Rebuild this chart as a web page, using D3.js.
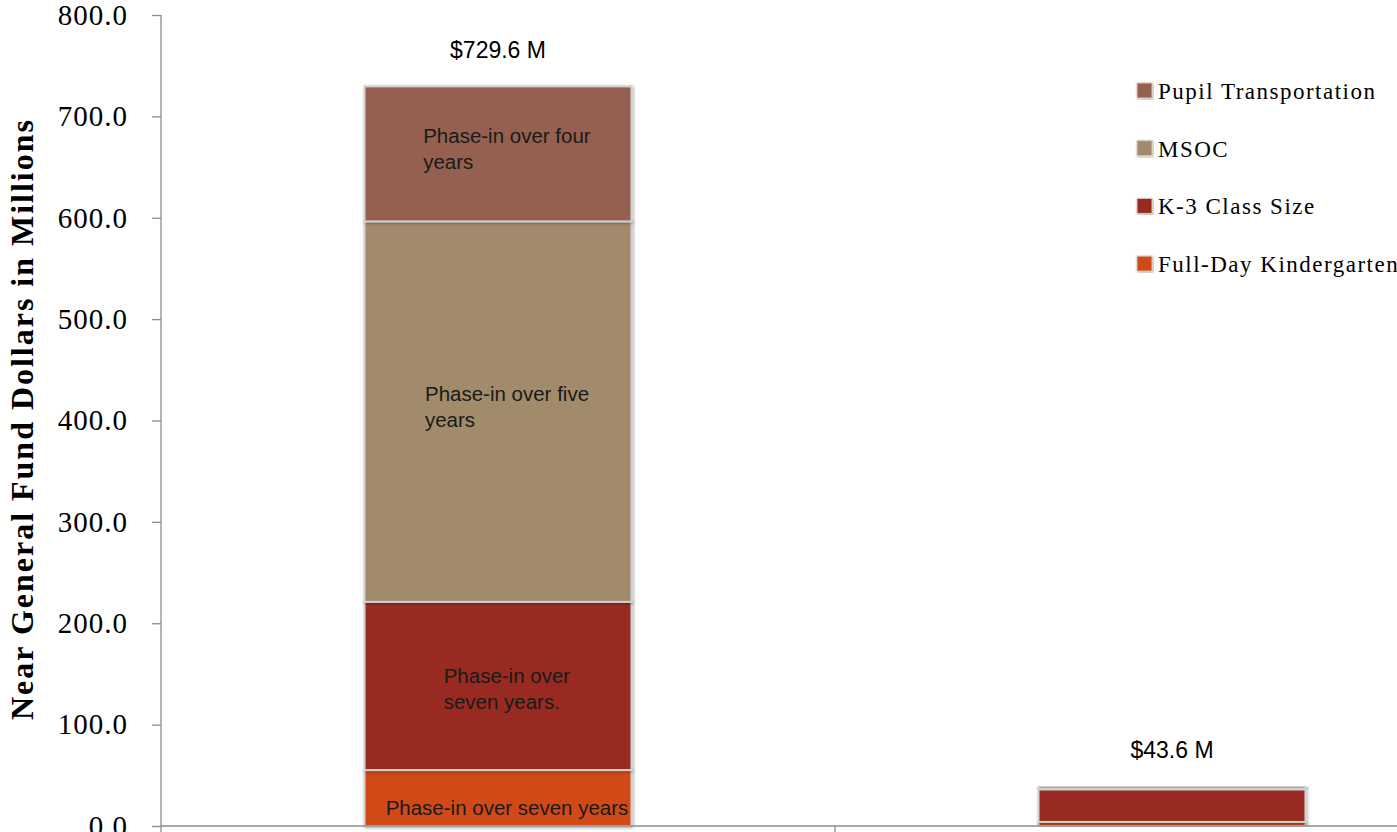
<!DOCTYPE html>
<meta charset="utf-8">
<style>
body { margin: 0; background: #fff; }
.chart text { font-family: "Liberation Serif", serif; }
.axis path, .axis line { stroke: #8c8c8c; stroke-width: 1.3; }
.chart .axis text { font-family: "Liberation Serif", serif; font-size: 29px; letter-spacing: 1px; fill: #000; }
.chart .note { font-family: "Liberation Sans", Arial, sans-serif; font-size: 20.5px; fill: #1a1a1a; }
.chart .total { font-family: "Liberation Sans", Arial, sans-serif; font-size: 23px; fill: #000; }
.chart .legend text { font-size: 23px; letter-spacing: 1.5px; fill: #000; }
</style>
<svg class="chart"></svg>
<script src="https://cdnjs.cloudflare.com/ajax/libs/d3/7.8.5/d3.min.js"></script>
<script>

var width = 1397,
    height = 832;

// data
var categories = ["Full Implementation", "2013-15 Biennium"];
var seriesNames = ["Full-Day Kindergarten", "K-3 Class Size", "MSOC", "Pupil Transportation"];
var fullDayK = [55.2, 4.0];
var k3ClassSize = [165.9, 32.0];
var msoc = [375.3, 0.8];
var pupilTransport = [133.2, 2.4];
var totalLabels = ["$729.6 M", "$43.6 M"];
var yTicks = [0, 100, 200, 300, 400, 500, 600, 700, 800];
var notes = [
  ["Phase-in over seven  years"],
  ["Phase-in over", "seven years."],
  ["Phase-in over five", "years"],
  ["Phase-in over four", "years"]
];
var colors = ["#d14a19", "#992c20", "#a28b6b", "#956150"];

var rows = categories.map(function(c, i) {
  return {
    category: c,
    "Full-Day Kindergarten": fullDayK[i],
    "K-3 Class Size": k3ClassSize[i],
    "MSOC": msoc[i],
    "Pupil Transportation": pupilTransport[i]
  };
});

var stacked = d3.stack().keys(seriesNames)(rows);

var y = d3.scaleLinear()
    .domain([0, 800])
    .range([826, 15]);

var x = d3.scaleBand()
    .domain(categories)
    .range([161, 1509])
    .padding(0);

var barW = x.bandwidth() * 0.396;

var svg = d3.select(".chart")
    .attr("width", width)
    .attr("height", height);

var defs = svg.append("defs");
var f = defs.append("filter").attr("id", "shadow")
    .attr("x", "-10%").attr("y", "-10%").attr("width", "120%").attr("height", "120%");
f.append("feDropShadow").attr("dx", 1).attr("dy", 1).attr("stdDeviation", 1.6)
    .attr("flood-color", "#000").attr("flood-opacity", 0.35);

// bars
var layer = svg.selectAll(".layer")
    .data(stacked)
  .enter().append("g")
    .attr("class", "layer")
    .attr("fill", function(d, i) { return colors[i]; });

layer.selectAll("rect")
    .data(function(d) { return d; })
  .enter().append("rect")
    .attr("x", function(d) { return x(d.data.category) + (x.bandwidth() - barW) / 2; })
    .attr("y", function(d) { return y(d[1]); })
    .attr("width", barW)
    .attr("height", function(d) { return Math.max(0, y(d[0]) - y(d[1])); })
    .attr("stroke", "#d0d0d0")
    .attr("stroke-width", 2)
    .attr("filter", "url(#shadow)");

// notes inside the first bar
var cx0 = x(categories[0]) + x.bandwidth() / 2;
stacked.forEach(function(s, i) {
  var seg = s[0];
  var mid = (y(seg[0]) + y(seg[1])) / 2;
  var lines = notes[i];
  var t = svg.append("text").attr("class", "note");
  var lh = 26;
  var top = mid - (lines.length - 1) * lh / 2 + 2;
  if (lines.length === 1) top = mid + 17;
  if (i === 1) top += 8;
  lines.forEach(function(l, j) {
    t.append("tspan").attr("x", 0).attr("y", top + j * lh).text(l);
  });
  var w = t.node().getBBox().width;
  t.selectAll("tspan").attr("x", cx0 + 9 - w / 2);
});

// totals
var totals = stacked[stacked.length - 1];
svg.selectAll(".total")
    .data(totals)
  .enter().append("text")
    .attr("class", "total")
    .attr("x", function(d) { return x(d.data.category) + x.bandwidth() / 2; })
    .attr("y", function(d) { return y(d[1]) - 28; })
    .attr("text-anchor", "middle")
    .text(function(d, i) { return totalLabels[i]; });

// axes
svg.append("g")
    .attr("class", "axis")
    .attr("transform", "translate(161,0)")
    .call(d3.axisLeft(y).tickValues(yTicks).tickSize(9).tickPadding(24)
      .tickFormat(d3.format(".1f")))
    .call(function(g) { g.select(".domain").attr("d", "M0,15V832"); });

svg.append("g")
    .attr("class", "axis")
    .attr("transform", "translate(0,826)")
    .call(d3.axisBottom(x).tickSize(8).tickFormat(""))
    .call(function(g) {
      g.select(".domain").attr("d", "M161,0H1509");
      g.selectAll(".tick").remove();
    })
    .selectAll(".divider")
    .data([categories[1]])
  .enter().append("line")
    .attr("x1", function(d) { return x(d); })
    .attr("x2", function(d) { return x(d); })
    .attr("y1", 0).attr("y2", 8);

// y title
svg.append("text")
    .attr("transform", "translate(33,420) rotate(-90)")
    .attr("text-anchor", "middle")
    .attr("textLength", 600)
    .attr("lengthAdjust", "spacing")
    .style("font-size", "32px")
    .style("font-weight", "bold")
    .text("Near General Fund Dollars in Millions");

// legend
var legend = svg.append("g").attr("class", "legend")
    .selectAll("g")
    .data(seriesNames.slice().reverse())
  .enter().append("g")
    .attr("transform", function(d, i) { return "translate(1137," + (91 + i * 57.7) + ")"; });

legend.append("rect")
    .attr("y", -8)
    .attr("width", 15)
    .attr("height", 15)
    .attr("fill", function(d) { return colors[seriesNames.indexOf(d)]; })
    .attr("stroke", "#d8c8c0")
    .attr("stroke-width", 1)
    .attr("filter", "url(#shadow)");

legend.append("text")
    .attr("x", 21)
    .attr("y", 8)
    .text(function(d) { return d; });

</script>
